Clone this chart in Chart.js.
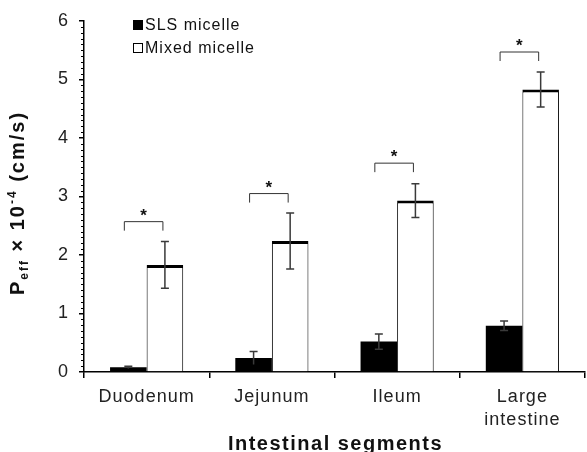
<!DOCTYPE html>
<html>
<head>
<meta charset="utf-8">
<script src="https://cdn.jsdelivr.net/npm/chart.js@4/dist/chart.umd.min.js"></script>
<style>
  html, body { margin: 0; padding: 0; background: #fff; }
  #wrap { width: 587px; height: 452px; }
</style>
</head>
<body>
<div id="wrap"><canvas id="c" width="587" height="452"></canvas></div>
<script>
const segments = ["Duodenum", "Jejunum", "Ileum", ["Large", "intestine"]];
const slsValues = [0.08, 0.24, 0.52, 0.79];
const slsErrors = [0.02, 0.11, 0.13, 0.08];
const mixedValues = [1.83, 2.24, 2.93, 4.83];
const mixedErrors = [0.40, 0.48, 0.29, 0.30];
const bracketLevels = [2.57, 3.05, 3.57, 5.47];
const yTicks = [0, 1, 2, 3, 4, 5, 6];

const FONT = "'Liberation Sans', Arial, sans-serif";

// wider letter spacing like the original figure
const spacing = {
  id: "spacing",
  beforeUpdate(chart) { chart.ctx.letterSpacing = "1px"; },
  beforeDraw(chart) { chart.ctx.letterSpacing = "1px"; },
};

const extras = {
  id: "extras",
  afterDatasetsDraw(chart) {
    const ctx = chart.ctx;
    const y = chart.scales.y;
    const area = chart.chartArea;
    ctx.save();

    // minor ticks on the y axis
    ctx.strokeStyle = "#000";
    ctx.lineWidth = 1;
    ctx.beginPath();
    for (let i = 1; i < 60; i++) {
      if (i % 10 === 0) continue;
      const py = Math.round(y.getPixelForValue(i / 10)) + 0.5;
      ctx.moveTo(area.left - 3, py); ctx.lineTo(area.left, py);
    }
    ctx.stroke();

    // error bars
    const sets = [[slsValues, slsErrors], [mixedValues, mixedErrors]];
    ctx.strokeStyle = "#3a3a3a";
    ctx.lineWidth = 1.5;
    sets.forEach(([vals, errs], di) => {
      chart.getDatasetMeta(di).data.forEach((bar, i) => {
        const x = bar.x;
        const top = y.getPixelForValue(vals[i] + errs[i]);
        const bot = y.getPixelForValue(vals[i] - errs[i]);
        ctx.beginPath();
        ctx.moveTo(x, top); ctx.lineTo(x, bot);
        ctx.moveTo(x - 4, top); ctx.lineTo(x + 4, top);
        if (vals[i] - errs[i] > 0.15) { ctx.moveTo(x - 4, bot); ctx.lineTo(x + 4, bot); }
        ctx.stroke();
      });
    });

    // significance brackets
    ctx.strokeStyle = "#333";
    ctx.lineWidth = 1;
    ctx.fillStyle = "#111";
    ctx.font = "bold 17px " + FONT;
    ctx.letterSpacing = "0px";
    ctx.textAlign = "center";
    ctx.textBaseline = "bottom";
    const m0 = chart.getDatasetMeta(0).data;
    const m1 = chart.getDatasetMeta(1).data;
    bracketLevels.forEach((lv, i) => {
      const x0 = m0[i].x - 4;
      const x1 = m1[i].x - 2;
      const yy = y.getPixelForValue(lv);
      ctx.beginPath();
      ctx.moveTo(x0, yy + 9); ctx.lineTo(x0, yy); ctx.lineTo(x1, yy); ctx.lineTo(x1, yy + 9);
      ctx.stroke();
      ctx.fillText("*", (x0 + x1) / 2, yy + 3);
    });

    // legend
    const lx = 133, ly = [25, 48];
    ctx.font = "16px " + FONT;
    ctx.letterSpacing = "1px";
    ctx.textAlign = "left";
    ctx.textBaseline = "middle";
    chart.data.datasets.forEach((ds, i) => {
      ctx.fillStyle = ds.backgroundColor;
      ctx.fillRect(lx, ly[i] - 5, 10, 10);
      ctx.strokeStyle = "#000";
      ctx.lineWidth = 1;
      ctx.strokeRect(lx + 0.5, ly[i] - 4.5, 9, 9);
      ctx.fillStyle = "#111";
      ctx.fillText(ds.label, lx + 12, ly[i] + 1);
    });

    // axis titles
    ctx.font = "bold 20px " + FONT;
    ctx.letterSpacing = "1.5px";
    ctx.textAlign = "center";
    ctx.textBaseline = "alphabetic";
    ctx.fillText("Intestinal segments", (area.left + area.right) / 2 + 1, 450);

    ctx.translate(24, 203);
    ctx.rotate(-Math.PI / 2);
    ctx.letterSpacing = "2px";
    const parts = [["P", 20, 0], ["eff", 12, 4], [" \u00d7 10", 20, 0], ["-4", 12, -8], [" (cm/s)", 20, 0]];
    let w = 0;
    parts.forEach(p => { ctx.font = "bold " + p[1] + "px " + FONT; w += ctx.measureText(p[0]).width; });
    let cx = -w / 2;
    ctx.textAlign = "left";
    parts.forEach(p => {
      ctx.font = "bold " + p[1] + "px " + FONT;
      ctx.fillText(p[0], cx, p[2]);
      cx += ctx.measureText(p[0]).width;
    });
    ctx.restore();
  }
};

new Chart(document.getElementById("c"), {
  type: "bar",
  data: {
    labels: segments,
    datasets: [
      {
        label: "SLS micelle",
        data: slsValues,
        backgroundColor: "#000",
        borderColor: "#000",
        borderWidth: 0,
      },
      {
        label: "Mixed micelle",
        data: mixedValues,
        backgroundColor: "#fff",
        borderColor: "#000",
        borderWidth: { top: 3, left: 1, right: 1, bottom: 0 },
        borderSkipped: "bottom",
      },
    ],
  },
  options: {
    responsive: false,
    animation: false,
    devicePixelRatio: 1,
    layout: { padding: { left: 0, right: 2, top: 21, bottom: 0 } },
    plugins: { legend: { display: false }, tooltip: { enabled: false } },
    datasets: { bar: { categoryPercentage: 0.584, barPercentage: 1 } },
    scales: {
      x: {
        grid: { offset: true, drawOnChartArea: false, tickLength: 6, color: "#000", lineWidth: 1.5 },
        border: { color: "#000", width: 1.5 },
        ticks: { color: "#222", font: { family: FONT, size: 18, lineHeight: 1.25 }, padding: 8, maxRotation: 0 },
        afterFit(s) { s.height = 80; },
      },
      y: {
        min: 0,
        max: 6,
        afterBuildTicks(s) { s.ticks = yTicks.map(v => ({ value: v })); },
        grid: { drawOnChartArea: false, tickLength: 5, color: "#000", lineWidth: 1.5 },
        border: { color: "#000", width: 1.5 },
        ticks: { color: "#222", font: { family: FONT, size: 18 }, padding: 10 },
        afterFit(s) { s.width = 84; },
      },
    },
  },
  plugins: [spacing, extras],
});
</script>
</body>
</html>
